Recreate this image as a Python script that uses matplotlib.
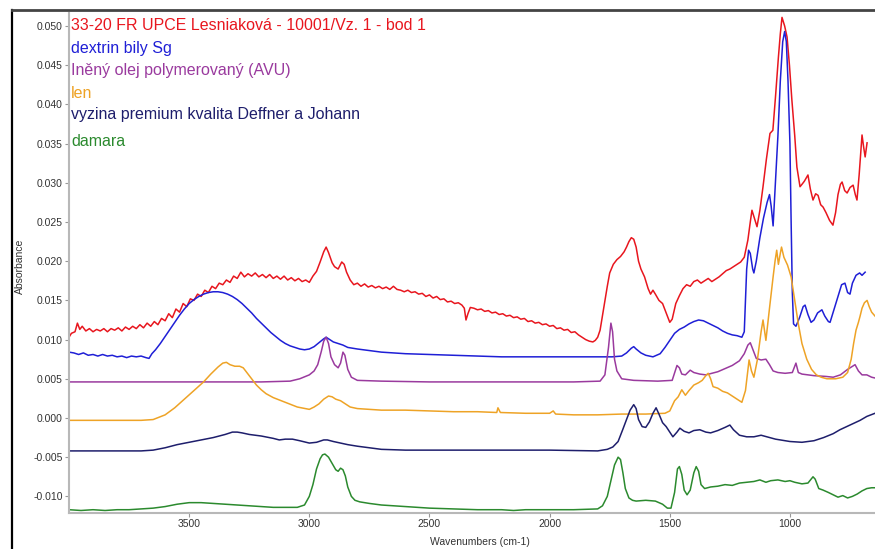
import matplotlib
matplotlib.use("Agg")
import matplotlib.pyplot as plt
from matplotlib.lines import Line2D
from matplotlib.ticker import FormatStrFormatter

plt.rcParams["font.family"] = ["Liberation Sans", "DejaVu Sans"]

# series names (legend order) and colours
names = [
    "33-20 FR UPCE Lesniaková - 10001/Vz. 1 - bod 1",
    "dextrin bily Sg",
    "Iněný olej polymerovaný (AVU)",
    "len",
    "vyzina premium kvalita Deffner a Johann",
    "damara",
]
colors = ["#e8161e", "#1f1fd6", "#9a3a9e", "#eea326", "#1e1e6c", "#2b8a2e"]

# sample spectrum (red)
red_wn = [4000, 3990, 3975, 3965, 3955, 3945, 3930, 3915, 3900, 3885, 3870, 3855, 3840, 3825, 3810, 3795,
          3780, 3765, 3750, 3735, 3720, 3705, 3690, 3675, 3660, 3645, 3630, 3615, 3600, 3585, 3570, 3555,
          3540, 3525, 3510, 3495, 3480, 3465, 3450, 3435, 3420, 3405, 3390, 3375, 3360, 3345, 3330, 3315,
          3300, 3285, 3270, 3255, 3240, 3225, 3210, 3195, 3180, 3165, 3150, 3135, 3120, 3105, 3090, 3075,
          3060, 3045, 3030, 3015, 3000, 2985, 2970, 2955, 2940, 2930, 2920, 2905, 2895, 2880, 2865, 2855,
          2845, 2830, 2815, 2800, 2785, 2770, 2755, 2740, 2725, 2710, 2695, 2680, 2665, 2650, 2635, 2620,
          2605, 2590, 2575, 2560, 2545, 2530, 2515, 2500, 2485, 2470, 2455, 2440, 2425, 2410, 2395, 2380,
          2365, 2355, 2348, 2340, 2330, 2315, 2300, 2285, 2270, 2255, 2240, 2225, 2210, 2195, 2180, 2165,
          2150, 2135, 2120, 2105, 2090, 2075, 2060, 2045, 2030, 2015, 2000, 1985, 1970, 1955, 1940, 1925,
          1910, 1895, 1880, 1865, 1850, 1835, 1820, 1810, 1800, 1790, 1775, 1760, 1750, 1735, 1720, 1705,
          1690, 1680, 1670, 1660, 1650, 1640, 1630, 1620, 1605, 1590, 1580, 1570, 1560, 1545, 1530, 1515,
          1500, 1490, 1475, 1460, 1445, 1430, 1415, 1400, 1385, 1370, 1355, 1340, 1325, 1310, 1295, 1280,
          1265, 1250, 1235, 1220, 1205, 1190, 1175, 1165, 1158, 1148, 1137, 1125, 1112, 1098, 1083, 1071,
          1060, 1048, 1040, 1033, 1022, 1012, 1002, 992, 980, 971, 958, 950, 940, 925, 915, 904,
          893, 883, 872, 862, 850, 835, 821, 810, 800, 790, 783, 772, 762, 750, 737, 728,
          721, 712, 700, 693, 687, 679]
red_abs = [0.0103, 0.0108, 0.0110, 0.0121, 0.0113, 0.0117, 0.0111, 0.0114, 0.0110, 0.0113, 0.0111, 0.0114, 0.0110, 0.0114, 0.0112, 0.0115,
           0.0111, 0.0116, 0.0113, 0.0117, 0.0114, 0.0119, 0.0115, 0.0121, 0.0117, 0.0123, 0.0119, 0.0127, 0.0124, 0.0133, 0.0128, 0.0139,
           0.0135, 0.0146, 0.0142, 0.0152, 0.0150, 0.0158, 0.0155, 0.0163, 0.0160, 0.0168, 0.0165, 0.0172, 0.0170, 0.0176, 0.0173, 0.0181,
           0.0178, 0.0186, 0.0180, 0.0184, 0.0181, 0.0185, 0.0180, 0.0183, 0.0179, 0.0183, 0.0178, 0.0181, 0.0177, 0.0181, 0.0176, 0.0179,
           0.0175, 0.0178, 0.0174, 0.0176, 0.0173, 0.0181, 0.0187, 0.0199, 0.0212, 0.0218, 0.0211, 0.0198, 0.0193, 0.0190, 0.0199, 0.0196,
           0.0186, 0.0176, 0.0170, 0.0172, 0.0168, 0.0171, 0.0167, 0.0169, 0.0166, 0.0168, 0.0165, 0.0167, 0.0164, 0.0168, 0.0164, 0.0163,
           0.0161, 0.0163, 0.0160, 0.0161, 0.0158, 0.0159, 0.0155, 0.0157, 0.0153, 0.0155, 0.0151, 0.0152, 0.0148, 0.0149, 0.0146, 0.0147,
           0.0144, 0.0140, 0.0125, 0.0133, 0.0141, 0.0140, 0.0138, 0.0139, 0.0136, 0.0137, 0.0134, 0.0135, 0.0132, 0.0133, 0.0130, 0.0131,
           0.0128, 0.0129, 0.0126, 0.0127, 0.0123, 0.0124, 0.0121, 0.0122, 0.0119, 0.0120, 0.0117, 0.0118, 0.0114, 0.0115, 0.0112, 0.0113,
           0.0109, 0.0110, 0.0106, 0.0103, 0.0100, 0.0098, 0.0097, 0.0099, 0.0103, 0.0112, 0.0140, 0.0168, 0.0185, 0.0196, 0.0202, 0.0206,
           0.0212, 0.0218, 0.0225, 0.0230, 0.0228, 0.0218, 0.0200, 0.0190, 0.0180, 0.0165, 0.0158, 0.0163, 0.0158, 0.0150, 0.0146, 0.0134,
           0.0122, 0.0126, 0.0146, 0.0156, 0.0165, 0.0170, 0.0168, 0.0174, 0.0176, 0.0172, 0.0175, 0.0178, 0.0174, 0.0177, 0.0180, 0.0184,
           0.0188, 0.0190, 0.0193, 0.0196, 0.0199, 0.0205, 0.0227, 0.0250, 0.0265, 0.0255, 0.0244, 0.0265, 0.0295, 0.0330, 0.0363, 0.0367,
           0.0410, 0.0460, 0.0490, 0.0511, 0.0500, 0.0486, 0.0450, 0.0406, 0.0360, 0.0320, 0.0295, 0.0298, 0.0302, 0.0310, 0.0292, 0.0278,
           0.0286, 0.0284, 0.0272, 0.0269, 0.0262, 0.0252, 0.0246, 0.0262, 0.0285, 0.0298, 0.0301, 0.0290, 0.0287, 0.0294, 0.0297, 0.0285,
           0.0278, 0.0310, 0.0361, 0.0345, 0.0333, 0.0351]

# dextrin (blue)
blue_wn = [4000, 3980, 3960, 3940, 3920, 3900, 3880, 3860, 3840, 3820, 3800, 3780, 3760, 3740, 3720, 3700,
           3680, 3667, 3655, 3640, 3620, 3600, 3580, 3560, 3540, 3520, 3500, 3480, 3460, 3440, 3420, 3400,
           3380, 3360, 3340, 3320, 3300, 3280, 3260, 3240, 3220, 3200, 3180, 3160, 3140, 3120, 3100, 3080,
           3060, 3040, 3020, 3000, 2980, 2960, 2940, 2930, 2915, 2900, 2880, 2860, 2840, 2800, 2750, 2700,
           2650, 2600, 2500, 2400, 2300, 2200, 2100, 2000, 1900, 1800, 1740, 1700, 1680, 1660, 1650, 1640,
           1620, 1600, 1570, 1540, 1520, 1500, 1480, 1460, 1440, 1420, 1400, 1380, 1360, 1340, 1320, 1300,
           1280, 1260, 1240, 1220, 1200, 1190, 1180, 1172, 1165, 1155, 1150, 1140, 1125, 1110, 1095, 1085,
           1078, 1070, 1062, 1050, 1040, 1030, 1022, 1015, 1008, 1000, 995, 990, 985, 975, 960, 945,
           937, 925, 912, 900, 885, 867, 855, 840, 833, 820, 800, 785, 771, 760, 750, 740,
           725, 710, 700, 687]
blue_abs = [0.0084, 0.0083, 0.0081, 0.0083, 0.0080, 0.0081, 0.0079, 0.0081, 0.0079, 0.0080, 0.0078, 0.0079, 0.0077, 0.0079, 0.0078, 0.0079,
            0.0077, 0.0076, 0.0082, 0.0087, 0.0095, 0.0104, 0.0113, 0.0122, 0.0131, 0.0139, 0.0146, 0.0151, 0.0155, 0.0158, 0.0160, 0.0161,
            0.0161, 0.0160, 0.0158, 0.0155, 0.0151, 0.0146, 0.0140, 0.0134, 0.0127, 0.0121, 0.0115, 0.0109, 0.0104, 0.0099, 0.0095, 0.0092,
            0.0090, 0.0088, 0.0087, 0.0088, 0.0091, 0.0096, 0.0101, 0.0103, 0.0100, 0.0097, 0.0095, 0.0093, 0.0090, 0.0088, 0.0086, 0.0084,
            0.0083, 0.0082, 0.0081, 0.0080, 0.0079, 0.0078, 0.0078, 0.0078, 0.0078, 0.0078, 0.0078, 0.0079, 0.0083, 0.0089, 0.0091, 0.0088,
            0.0083, 0.0080, 0.0078, 0.0082, 0.0090, 0.0099, 0.0108, 0.0113, 0.0116, 0.0120, 0.0123, 0.0125, 0.0124, 0.0121, 0.0118, 0.0115,
            0.0111, 0.0108, 0.0106, 0.0105, 0.0103, 0.0110, 0.0190, 0.0214, 0.0210, 0.0190, 0.0185, 0.0200, 0.0230, 0.0255, 0.0275, 0.0285,
            0.0270, 0.0245, 0.0290, 0.0360, 0.0430, 0.0480, 0.0493, 0.0480, 0.0430, 0.0350, 0.0250, 0.0160, 0.0120, 0.0117, 0.0128, 0.0142,
            0.0144, 0.0132, 0.0122, 0.0125, 0.0134, 0.0138, 0.0130, 0.0123, 0.0122, 0.0135, 0.0155, 0.0170, 0.0172, 0.0160, 0.0158, 0.0172,
            0.0182, 0.0185, 0.0182, 0.0186]

# linseed oil (purple)
purple_wn = [4000, 3600, 3200, 3080, 3040, 3000, 2980, 2965, 2950, 2940, 2930, 2920, 2910, 2895, 2880, 2870,
             2860, 2852, 2840, 2825, 2800, 2700, 2500, 2200, 1900, 1790, 1770, 1755, 1745, 1738, 1730, 1720,
             1700, 1650, 1550, 1490, 1470, 1460, 1450, 1435, 1415, 1400, 1375, 1350, 1300, 1270, 1240, 1210,
             1190, 1175, 1165, 1155, 1140, 1120, 1100, 1085, 1070, 1050, 1020, 990, 975, 965, 950, 900,
             850, 820, 790, 760, 729, 715, 700, 680, 660, 646]
purple_abs = [0.0046, 0.0046, 0.0046, 0.0047, 0.0050, 0.0055, 0.0060, 0.0068, 0.0085, 0.0098, 0.0103, 0.0095, 0.0078, 0.0068, 0.0064, 0.0070,
              0.0084, 0.0080, 0.0062, 0.0052, 0.0048, 0.0047, 0.0046, 0.0046, 0.0046, 0.0047, 0.0055, 0.0090, 0.0121, 0.0110, 0.0075, 0.0060,
              0.0050, 0.0048, 0.0047, 0.0048, 0.0067, 0.0064, 0.0056, 0.0055, 0.0061, 0.0058, 0.0056, 0.0055, 0.0059, 0.0063, 0.0067, 0.0073,
              0.0082, 0.0093, 0.0096, 0.0088, 0.0076, 0.0074, 0.0075, 0.0068, 0.0060, 0.0058, 0.0057, 0.0058, 0.0070, 0.0058, 0.0056, 0.0054,
              0.0053, 0.0052, 0.0055, 0.0062, 0.0068, 0.0060, 0.0055, 0.0055, 0.0052, 0.0051]

# flax (orange)
orange_wn = [4000, 3900, 3800, 3700, 3650, 3600, 3560, 3520, 3480, 3440, 3410, 3380, 3360, 3345, 3330, 3310,
             3290, 3275, 3260, 3240, 3220, 3200, 3180, 3150, 3100, 3050, 3000, 2980, 2960, 2940, 2920, 2905,
             2890, 2870, 2850, 2830, 2800, 2700, 2600, 2500, 2400, 2300, 2220, 2215, 2205, 2100, 2000, 1985,
             1975, 1900, 1800, 1700, 1600, 1520, 1500, 1480, 1465, 1450, 1435, 1420, 1400, 1380, 1365, 1350,
             1340, 1330, 1320, 1300, 1280, 1260, 1240, 1220, 1200, 1185, 1170, 1160, 1150, 1135, 1120, 1112,
             1100, 1085, 1070, 1062, 1055, 1048, 1040, 1035, 1025, 1010, 995, 980, 965, 950, 930, 910,
             890, 870, 846, 810, 780, 760, 745, 735, 725, 715, 708, 700, 690, 679, 670, 660, 646]
orange_abs = [-0.0003, -0.0003, -0.0003, -0.0003, -0.0002, 0.0004, 0.0013, 0.0024, 0.0035, 0.0046, 0.0056, 0.0065, 0.0070, 0.0071, 0.0068, 0.0066,
              0.0066, 0.0064, 0.0058, 0.0050, 0.0042, 0.0036, 0.0031, 0.0026, 0.0020, 0.0014, 0.0011, 0.0014, 0.0018, 0.0024, 0.0028, 0.0027,
              0.0024, 0.0022, 0.0018, 0.0014, 0.0012, 0.0010, 0.0010, 0.0009, 0.0008, 0.0008, 0.0007, 0.0013, 0.0007, 0.0006, 0.0006, 0.0009,
              0.0005, 0.0004, 0.0004, 0.0005, 0.0005, 0.0006, 0.0009, 0.0022, 0.0027, 0.0036, 0.0029, 0.0035, 0.0042, 0.0045, 0.0048, 0.0054,
              0.0057, 0.0050, 0.0040, 0.0038, 0.0034, 0.0032, 0.0028, 0.0024, 0.0020, 0.0035, 0.0074, 0.0060, 0.0052, 0.0075, 0.0110, 0.0125,
              0.0099, 0.0140, 0.0180, 0.0200, 0.0214, 0.0196, 0.0210, 0.0218, 0.0205, 0.0195, 0.0180, 0.0150, 0.0120, 0.0095, 0.0075, 0.0062,
              0.0055, 0.0052, 0.0050, 0.0050, 0.0052, 0.0058, 0.0075, 0.0095, 0.0112, 0.0122, 0.0130, 0.0140, 0.0147, 0.0150, 0.0142, 0.0135, 0.0130]

# vyzina (navy)
navy_wn = [4000, 3900, 3800, 3700, 3650, 3600, 3550, 3500, 3450, 3400, 3350, 3320, 3300, 3280, 3250, 3200,
           3150, 3125, 3100, 3070, 3040, 3000, 2970, 2940, 2925, 2900, 2870, 2840, 2800, 2750, 2700, 2600,
           2400, 2200, 2000, 1800, 1760, 1737, 1715, 1696, 1680, 1665, 1650, 1640, 1630, 1615, 1600, 1585,
           1570, 1557, 1545, 1530, 1515, 1500, 1487, 1470, 1458, 1440, 1420, 1400, 1375, 1350, 1330, 1300,
           1270, 1250, 1235, 1210, 1180, 1150, 1120, 1096, 1060, 1000, 950, 900, 860, 820, 792, 750,
           708, 680, 646]
navy_abs = [-0.0042, -0.0042, -0.0042, -0.0042, -0.0041, -0.0038, -0.0034, -0.0031, -0.0028, -0.0025, -0.0021, -0.0018, -0.0018, -0.0019, -0.0021, -0.0023,
            -0.0026, -0.0028, -0.0027, -0.0027, -0.0029, -0.0032, -0.0031, -0.0028, -0.0028, -0.0030, -0.0032, -0.0034, -0.0036, -0.0038, -0.0040, -0.0041,
            -0.0041, -0.0041, -0.0041, -0.0042, -0.0040, -0.0037, -0.0030, -0.0015, -0.0002, 0.0010, 0.0017, 0.0012, -0.0002, -0.0011, -0.0012, -0.0005,
            0.0006, 0.0013, 0.0005, -0.0006, -0.0011, -0.0018, -0.0024, -0.0018, -0.0013, -0.0017, -0.0019, -0.0016, -0.0015, -0.0018, -0.0019, -0.0016,
            -0.0012, -0.0009, -0.0015, -0.0022, -0.0024, -0.0024, -0.0022, -0.0024, -0.0027, -0.0030, -0.0031, -0.0029, -0.0025, -0.0020, -0.0015, -0.0009,
            -0.0003, 0.0002, 0.0006]

# damar (green)
green_wn = [4000, 3950, 3900, 3850, 3800, 3750, 3700, 3650, 3600, 3550, 3500, 3450, 3400, 3350, 3300, 3250,
            3200, 3150, 3100, 3050, 3020, 3000, 2985, 2970, 2955, 2945, 2935, 2920, 2905, 2890, 2880, 2870,
            2860, 2850, 2840, 2825, 2810, 2790, 2750, 2700, 2600, 2500, 2400, 2300, 2200, 2150, 2100, 2000,
            1900, 1800, 1780, 1760, 1745, 1730, 1715, 1705, 1695, 1685, 1670, 1655, 1640, 1600, 1560, 1530,
            1510, 1495, 1480, 1468, 1460, 1450, 1440, 1428, 1415, 1400, 1390, 1380, 1370, 1355, 1330, 1300,
            1270, 1240, 1210, 1180, 1150, 1125, 1100, 1080, 1050, 1020, 1000, 980, 950, 925, 904, 895,
            880, 862, 840, 820, 800, 780, 760, 740, 720, 700, 680, 660, 646]
green_abs = [-0.0117, -0.0118, -0.0117, -0.0118, -0.0117, -0.0117, -0.0116, -0.0115, -0.0113, -0.0110, -0.0108, -0.0108, -0.0109, -0.0110, -0.0111, -0.0112,
             -0.0113, -0.0114, -0.0114, -0.0114, -0.0111, -0.0100, -0.0085, -0.0065, -0.0052, -0.0047, -0.0046, -0.0050, -0.0058, -0.0066, -0.0068, -0.0064,
             -0.0066, -0.0074, -0.0088, -0.0100, -0.0105, -0.0107, -0.0109, -0.0111, -0.0113, -0.0115, -0.0116, -0.0117, -0.0117, -0.0118, -0.0117, -0.0117,
             -0.0117, -0.0116, -0.0112, -0.0100, -0.0080, -0.0060, -0.0050, -0.0053, -0.0070, -0.0090, -0.0102, -0.0105, -0.0106, -0.0105, -0.0106, -0.0110,
             -0.0115, -0.0115, -0.0095, -0.0065, -0.0062, -0.0072, -0.0092, -0.0098, -0.0092, -0.0070, -0.0062, -0.0068, -0.0085, -0.0090, -0.0088, -0.0087,
             -0.0085, -0.0086, -0.0083, -0.0082, -0.0081, -0.0079, -0.0082, -0.0080, -0.0079, -0.0081, -0.0080, -0.0082, -0.0084, -0.0083, -0.0075, -0.0078,
             -0.0090, -0.0092, -0.0095, -0.0098, -0.0101, -0.0099, -0.0102, -0.0100, -0.0097, -0.0093, -0.0090, -0.0089, -0.0089]

series = [
    (red_wn, red_abs),
    (blue_wn, blue_abs),
    (purple_wn, purple_abs),
    (orange_wn, orange_abs),
    (navy_wn, navy_abs),
    (green_wn, green_abs),
]

x_ticks = [3500, 3000, 2500, 2000, 1500, 1000]
y_ticks = [-0.010, -0.005, 0.000, 0.005, 0.010, 0.015, 0.020, 0.025, 0.030, 0.035, 0.040, 0.045, 0.050]

W, H = 875, 549
fig = plt.figure(figsize=(W / 100, H / 100), dpi=100)
ax = fig.add_axes([69 / W, 1 - 513 / H, 1 - 69 / W, (513 - 13) / H])

for (wn, ab), c in zip(series, colors):
    ax.plot(wn, ab, color=c, lw=1.1, solid_joinstyle="round")

ax.set_xlim(4000, 646)
ax.set_ylim(-0.01212, 0.05166)
ax.set_xticks(x_ticks)
ax.set_yticks(y_ticks)
ax.yaxis.set_major_formatter(FormatStrFormatter("%.3f"))
ax.tick_params(direction="out", length=3, width=0.8, color="#999999",
               labelsize=7.5, labelcolor="#333333", pad=1.5)
for side in ["top", "right"]:
    ax.spines[side].set_visible(False)
for side in ["left", "bottom"]:
    ax.spines[side].set_color("#b8b8b8")
    ax.spines[side].set_linewidth(1.5)

# sample names in the upper left corner
name_y = [25, 49, 71, 94, 114, 142]
for name, c, yp in zip(names, colors, name_y):
    fig.text(71 / W, 1 - yp / H, name, color=c, fontsize=11.5, va="center", ha="left")

fig.text(20 / W, 1 - 266 / H, "Absorbance", rotation=90, fontsize=7.5,
         color="#333333", ha="center", va="center")
fig.text(480 / W, 1 - 542 / H, "Wavenumbers (cm-1)", fontsize=7.5,
         color="#333333", ha="center", va="center")

# outer frame (left and top edge only, the rest is cut off)
fig.add_artist(Line2D([12 / W, 12 / W], [0, 1 - 10 / H], color="black", lw=1.6))
fig.add_artist(Line2D([12 / W, 1], [1 - 10 / H, 1 - 10 / H], color="#444444", lw=2))

fig.savefig("out.png", dpi=100)
